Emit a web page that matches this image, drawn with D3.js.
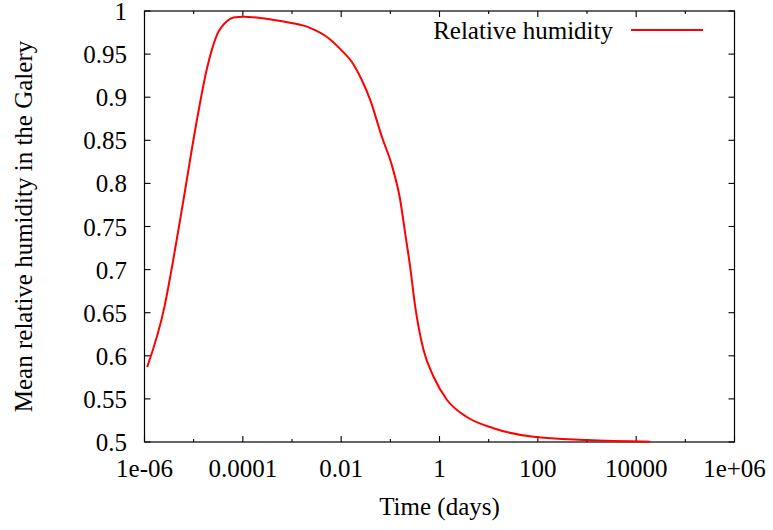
<!DOCTYPE html>
<html>
<head>
<meta charset="utf-8">
<script src="https://cdn.jsdelivr.net/npm/d3@7"></script>
<style>
  html, body { margin: 0; padding: 0; background: #fff; }
  svg text { font-family: "Liberation Serif", "DejaVu Serif", serif; fill: #000; }
</style>
</head>
<body>
<svg id="chart" width="773" height="530" font-family="Liberation Serif, serif"></svg>
<script>
// ---- data ----
const timeDays = [1.135e-6, 2.55e-6, 3.89e-6, 6.21e-6, 1.164e-5, 1.858e-5, 2.965e-5, 4.74e-5,
  6.46e-5, 1.03e-4, 2.25e-4, 6.31e-4, 2.01e-3, 5.98e-3, 9.55e-3, 0.01782, 0.0263, 0.0389, 0.0673,
  0.1074, 0.1585, 0.2004, 0.2535, 0.3206, 0.472, 0.755, 1.413, 3.61, 12.53, 81.5, 993, 19280];
const humidity = [0.587, 0.657, 0.713, 0.781, 0.8735, 0.933, 0.972, 0.988,
  0.9925, 0.9934, 0.992, 0.988, 0.9818, 0.967, 0.956, 0.938, 0.920, 0.897, 0.854,
  0.821, 0.781, 0.742, 0.703, 0.657, 0.607, 0.576, 0.549, 0.529, 0.516, 0.506, 0.5023, 0.5003];
const xTickValues = [1e-6, 1e-5, 1e-4, 1e-3, 1e-2, 1e-1, 1, 10, 100, 1e3, 1e4, 1e5, 1e6];
const xTickLabels = ["1e-06", "", "0.0001", "", "0.01", "", "1", "", "100", "", "10000", "", "1e+06"];
const yTickValues = [0.5, 0.55, 0.6, 0.65, 0.7, 0.75, 0.8, 0.85, 0.9, 0.95, 1];
const yTickLabels = ["0.5", "0.55", "0.6", "0.65", "0.7", "0.75", "0.8", "0.85", "0.9", "0.95", "1"];
const seriesName = "Relative humidity";
const xTitle = "Time (days)";
const yTitle = "Mean relative humidity in the Galery";

// ---- layout ----
const L = 144.5, R = 734.5, T = 11, B = 442;
const svg = d3.select("#chart");
const x = d3.scaleLog().domain([1e-6, 1e6]).range([L, R]);
const y = d3.scaleLinear().domain([0.5, 1]).range([B, T]);
const FS = 25;

// ticks
const g = svg.append("g").attr("stroke", "#000").attr("stroke-width", 1.1);
xTickValues.forEach((v, i) => {
  const len = xTickLabels[i] ? 6 : 3;
  const px = x(v);
  g.append("line").attr("x1", px).attr("x2", px).attr("y1", B).attr("y2", B - len);
  g.append("line").attr("x1", px).attr("x2", px).attr("y1", T).attr("y2", T + len);
});
yTickValues.forEach(v => {
  const py = y(v);
  g.append("line").attr("x1", L).attr("x2", L + 6).attr("y1", py).attr("y2", py);
  g.append("line").attr("x1", R).attr("x2", R - 6).attr("y1", py).attr("y2", py);
});
// frame
svg.append("rect").attr("x", L).attr("y", T).attr("width", R - L).attr("height", B - T)
  .attr("fill", "none").attr("stroke", "#000").attr("stroke-width", 1.2);

// tick labels
xTickValues.forEach((v, i) => {
  if (!xTickLabels[i]) return;
  svg.append("text").attr("x", x(v)).attr("y", 477).attr("text-anchor", "middle")
    .attr("font-family", "Liberation Serif").attr("font-size", FS).text(xTickLabels[i]);
});
yTickValues.forEach((v, i) => {
  svg.append("text").attr("x", 127).attr("y", y(v) + 9).attr("text-anchor", "end")
    .attr("font-family", "Liberation Serif").attr("font-size", FS).text(yTickLabels[i]);
});

// axis titles
svg.append("text").attr("x", (L + R) / 2).attr("y", 515).attr("text-anchor", "middle")
  .attr("font-family", "Liberation Serif").attr("font-size", FS).text(xTitle);
svg.append("text").attr("transform", `translate(31.5,${(T + B) / 2}) rotate(-90)`)
  .attr("text-anchor", "middle").attr("font-family", "Liberation Serif")
  .attr("font-size", FS).text(yTitle);

// line
const data = timeDays.map((t, i) => ({ t, h: humidity[i] }));
const line = d3.line().x(d => x(d.t)).y(d => y(d.h)).curve(d3.curveMonotoneX);
svg.append("path").datum(data).attr("d", line).attr("fill", "none")
  .attr("stroke", "#ff0000").attr("stroke-width", 2).attr("stroke-linejoin", "round");

// legend
svg.append("text").attr("x", 613).attr("y", 39).attr("text-anchor", "end")
  .attr("font-family", "Liberation Serif").attr("font-size", FS).text(seriesName);
svg.append("line").attr("x1", 631).attr("x2", 703).attr("y1", 30).attr("y2", 30)
  .attr("stroke", "#ff0000").attr("stroke-width", 2);
</script>
</body>
</html>
